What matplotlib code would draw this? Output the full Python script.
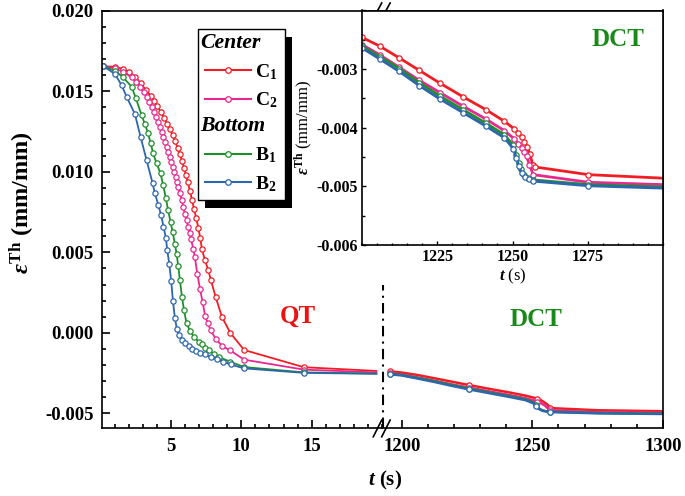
import matplotlib
matplotlib.use("Agg")
import matplotlib.pyplot as plt
from matplotlib.ticker import MultipleLocator, FormatStrFormatter
from matplotlib.legend_handler import HandlerBase
from matplotlib.lines import Line2D
from matplotlib.patches import Rectangle
from matplotlib.text import Text
from matplotlib.transforms import IdentityTransform

plt.rcParams.update({
    "font.family": "Liberation Serif",
    "font.weight": "bold",
    "mathtext.fontset": "custom",
    "mathtext.rm": "Liberation Serif:bold",
    "mathtext.it": "Liberation Serif:italic:bold",
    "mathtext.bf": "Liberation Serif:bold",
    "axes.unicode_minus": False,
    "axes.linewidth": 1.2,
})

# ---- quenching (QT) part, t in s, strain in mm/mm ----
t_c1_qt = [0.2, 1.0, 1.6, 2.05, 2.45, 2.85, 3.2, 3.55, 3.8, 4.03, 4.27, 4.5, 4.74, 4.93,
           5.12, 5.3, 5.47, 5.64, 5.79, 5.93, 6.06, 6.2, 6.35, 6.5, 6.64, 6.8, 6.95, 7.08,
           7.2, 7.42, 7.66, 7.83, 8.18, 8.62, 9.22, 10.2, 14.45, 19.6]
e_c1_qt = [0.01655, 0.01650, 0.01638, 0.01617, 0.01590, 0.01550, 0.01508, 0.01472, 0.01440,
           0.01408, 0.01372, 0.01335, 0.01298, 0.01263, 0.01226, 0.01189, 0.01148, 0.01107,
           0.01065, 0.01024, 0.00980, 0.00935, 0.00880, 0.00825, 0.00768, 0.00710, 0.00650,
           0.00590, 0.00520, 0.00450, 0.00388, 0.00330, 0.00222, 0.00100, 0.00000, -0.00106,
           -0.00213, -0.00236]

t_c2_qt = [0.2, 1.0, 1.6, 2.2, 2.55, 2.8, 3.05, 3.27, 3.45, 3.62, 3.78, 3.93, 4.08, 4.21,
           4.33, 4.45, 4.57, 4.69, 4.81, 4.93, 5.03, 5.12, 5.23, 5.33, 5.43, 5.52, 5.64, 5.76,
           5.88, 5.99, 6.11, 6.23, 6.33, 6.42, 6.58, 6.7, 6.87, 7.06, 7.25, 7.43, 7.62, 7.83,
           8.2, 8.65, 9.2, 10.2, 14.45, 19.6]
e_c2_qt = [0.01655, 0.01641, 0.01620, 0.01585, 0.01555, 0.01527, 0.01495, 0.01465, 0.01432,
           0.01399, 0.01370, 0.01340, 0.01309, 0.01278, 0.01247, 0.01216, 0.01185, 0.01154,
           0.01123, 0.01092, 0.01061, 0.01030, 0.00999, 0.00968, 0.00937, 0.00906, 0.00865,
           0.00823, 0.00781, 0.00740, 0.00698, 0.00657, 0.00620, 0.00585, 0.00523, 0.00471,
           0.00368, 0.00275, 0.00191, 0.00105, 0.00060, 0.00015, -0.00040, -0.00082,
           -0.00108, -0.00166, -0.00228, -0.00245]

t_b1_qt = [0.2, 1.02, 1.61, 2.2, 2.51, 2.91, 3.15, 3.38, 3.56, 3.74, 3.98, 4.26, 4.45, 4.64,
           4.8, 4.97, 5.12, 5.28, 5.4, 5.52, 5.64, 5.78, 5.93, 6.11, 6.37, 6.66, 6.97, 7.2,
           7.41, 7.72, 8.05, 8.42, 9.19, 10.2, 14.45, 19.6]
e_b1_qt = [0.01655, 0.01626, 0.01585, 0.01527, 0.01455, 0.01351, 0.01295, 0.01237, 0.01175,
           0.01113, 0.01051, 0.00989, 0.00916, 0.00834, 0.00761, 0.00688, 0.00626, 0.00550,
           0.00492, 0.00413, 0.00326, 0.00225, 0.00140, 0.00059, 0.00010, -0.00026, -0.00055,
           -0.00070, -0.00093, -0.00109, -0.00129, -0.00150, -0.00178, -0.00212, -0.00245,
           -0.00252]

t_b2_qt = [0.2, 1.02, 1.49, 1.85, 2.44, 2.84, 3.27, 3.69, 3.86, 4.1, 4.3, 4.47, 4.64, 4.74,
           4.88, 5.02, 5.14, 5.28, 5.42, 5.6, 5.8, 6.02, 6.25, 6.5, 6.78, 7.06, 7.41, 7.82,
           8.24, 8.71, 9.24, 10.2, 14.45, 19.6]
e_b2_qt = [0.01655, 0.01606, 0.01537, 0.01465, 0.01357, 0.01216, 0.01071, 0.00930, 0.00865,
           0.00795, 0.00730, 0.00660, 0.00588, 0.00512, 0.00428, 0.00320, 0.00200, 0.00092,
           0.00026, -0.00016, -0.00042, -0.00064, -0.00082, -0.00098, -0.00112, -0.00122,
           -0.00134, -0.00150, -0.00163, -0.00178, -0.00196, -0.00220, -0.00248, -0.00254]

# ---- deep cryogenic treatment (DCT) part ----
t_c1_dct = [1195.5, 1200.0, 1206.0, 1212.4, 1219.0, 1225.9, 1233.5, 1241.1, 1247.3, 1250.6,
            1251.9, 1253.1, 1253.9, 1254.7, 1255.8, 1256.7, 1257.6, 1275.2, 1300.0]
e_c1_dct = [-0.00238, -0.00246, -0.00261, -0.00281, -0.00302, -0.00324, -0.00347, -0.00369,
            -0.00389, -0.00402, -0.00409, -0.00416, -0.00424, -0.00432, -0.00445, -0.00463,
            -0.00467, -0.00480, -0.00486]

t_c2_dct = [1195.5, 1200.0, 1206.0, 1212.4, 1219.0, 1225.9, 1233.5, 1241.1, 1247.3, 1250.6,
            1251.9, 1253.1, 1253.8, 1254.7, 1255.6, 1256.9, 1275.2, 1300.0]
e_c2_dct = [-0.00250, -0.00258, -0.00276, -0.00297, -0.00319, -0.00340, -0.00363, -0.00385,
            -0.00405, -0.00419, -0.00427, -0.00434, -0.00441, -0.00449, -0.00463, -0.00480,
            -0.00493, -0.00497]

t_b1_dct = [1195.5, 1200.0, 1206.0, 1212.4, 1219.0, 1225.9, 1233.5, 1241.1, 1247.3, 1250.3,
            1251.3, 1252.0, 1252.8, 1253.8, 1255.3, 1256.9, 1275.2, 1300.0]
e_b1_dct = [-0.00253, -0.00261, -0.00279, -0.00299, -0.00323, -0.00346, -0.00369, -0.00392,
            -0.00412, -0.00430, -0.00446, -0.00460, -0.00471, -0.00480, -0.00486, -0.00489,
            -0.00497, -0.00501]

t_b2_dct = [1195.5, 1200.0, 1206.0, 1212.4, 1219.0, 1225.9, 1233.5, 1241.1, 1247.3, 1250.3,
            1251.3, 1252.1, 1253.0, 1254.0, 1255.4, 1256.9, 1275.2, 1300.0]
e_b2_dct = [-0.00257, -0.00264, -0.00283, -0.00304, -0.00328, -0.00351, -0.00374, -0.00397,
            -0.00417, -0.00436, -0.00452, -0.00466, -0.00477, -0.00484, -0.00488, -0.00491,
            -0.00499, -0.00503]

names = ["C$_{1}$", "C$_{2}$", "B$_{1}$", "B$_{2}$"]
colors = ["#f21d24", "#e8288f", "#1f8f2c", "#2d66ad"]
qt = [(t_c1_qt, e_c1_qt), (t_c2_qt, e_c2_qt), (t_b1_qt, e_b1_qt), (t_b2_qt, e_b2_qt)]
dct = [(t_c1_dct, e_c1_dct), (t_c2_dct, e_c2_dct), (t_b1_dct, e_b1_dct), (t_b2_dct, e_b2_dct)]
main_marks = [0, 5, 10, 15]

W, H = 685, 496
fig = plt.figure(figsize=(W / 100, H / 100), dpi=100)


def fpos(x0, y0, x1, y1):
    # pixel box (top-left origin) -> figure fraction
    return [x0 / W, 1 - y1 / H, (x1 - x0) / W, (y1 - y0) / H]


ax1 = fig.add_axes(fpos(102, 10.5, 382, 428))
ax2 = fig.add_axes(fpos(382, 10.5, 663, 428))
axin = fig.add_axes(fpos(362, 10.5, 663, 245))
axin.set_zorder(5)

line_kw = dict(marker="o", mfc="white", ms=3.8, mew=0.9)
for (t, e), c in zip(qt, colors):
    ax1.plot(t, e, color=c, mec=c, lw=1.3, markevery=list(range(len(t) - 1)), **line_kw)
for (t, e), c in zip(dct, colors):
    ax2.plot(t, e, color=c, mec=c, lw=1.8, markevery=main_marks, **line_kw)
    axin.plot(t, e, color=c, mec=c, lw=2.0, markevery=list(range(1, len(t) - 1)), **line_kw)

ylo, yhi = -0.0059, 0.020
for ax in (ax1, ax2):
    ax.set_ylim(ylo, yhi)
    ax.tick_params(which="both", direction="in", labelsize=13.5, width=1.2, top=False, right=False)
    ax.tick_params(which="major", length=5.5)
    ax.tick_params(which="minor", length=3)
    ax.tick_params(axis="x", pad=7)

ax1.set_xlim(0.1, 20.0)
ax1.set_xticks([5, 10, 15])
ax1.xaxis.set_minor_locator(MultipleLocator(1))
ax1.set_yticks([-0.005, 0.0, 0.005, 0.010, 0.015, 0.020])
ax1.yaxis.set_minor_locator(MultipleLocator(0.001))
ax1.yaxis.set_major_formatter(FormatStrFormatter("%.3f"))
ax1.tick_params(axis="y", pad=6)
ax1.spines["right"].set_visible(False)

ax2.set_xlim(1192.46, 1300)
ax2.set_xticks([1200, 1250, 1300])
ax2.xaxis.set_minor_locator(MultipleLocator(10))
ax2.set_yticks([])
ax2.spines["left"].set_visible(False)

# dash-dot separator between QT and DCT
ax2.axvline(1192.9, 0, 0.343, color="black", lw=1.5, ls=(0, (5, 2.5, 1, 2.5)))

# break marks
for dx in (0.0, 0.03):
    ax2.plot([-0.031 + dx, -0.001 + dx], [-0.021, 0.019], color="black", lw=1.2,
             transform=ax2.transAxes, clip_on=False)
    ax2.plot([-0.031 + dx, -0.001 + dx], [0.981, 1.018], color="black", lw=1.2,
             transform=ax2.transAxes, clip_on=False, zorder=10)

ax1.text(14.0, 0.0010, "QT", color="#ee1111", fontsize=18, ha="center", va="center")
ax2.text(1251.3, 0.0008, "DCT", color="#178a17", fontsize=18, ha="center", va="center")

fig.text(385 / W, 1 - 480 / H, "$t$ (s)", fontsize=15, ha="center", va="center")
fig.text(22 / W, 1 - 203 / H, r"$\varepsilon^{\mathrm{Th}}$ (mm/mm)", fontsize=17.5,
         rotation=90, ha="center", va="center")

# inset
axin.set_xlim(1200, 1300)
axin.set_ylim(-0.006, -0.002)
axin.set_xticks([1225, 1250, 1275])
axin.xaxis.set_minor_locator(MultipleLocator(5))
axin.set_yticks([-0.006, -0.005, -0.004, -0.003])
axin.yaxis.set_minor_locator(MultipleLocator(0.0005))
axin.yaxis.set_major_formatter(FormatStrFormatter("%.3f"))
axin.tick_params(which="both", direction="in", labelsize=11.5, width=1.0, pad=3)
axin.tick_params(which="major", length=3.2)
axin.tick_params(which="minor", length=1.8)
axin.set_xlabel("$t$ (s)", fontsize=12, labelpad=1)
axin.set_ylabel(r"$\varepsilon^{\mathrm{Th}}$ (mm/mm)", fontsize=12, labelpad=1)
axin.text(1285, -0.0025, "DCT", color="#178a17", fontsize=18, ha="center", va="center")


# legend with group headings
class HeadingHandler(HandlerBase):
    def create_artists(self, legend, orig_handle, xdescent, ydescent, width, height,
                       fontsize, trans):
        txt = Text(-xdescent - 3, -ydescent + height / 2, orig_handle.get_text(),
                   ha="left", va="center", fontsize=fontsize * 1.12, fontweight="bold",
                   fontstyle="italic", transform=trans)
        return [txt]


sample = [Line2D([], [], color=c, lw=1.5, marker="o", mfc="white", mec=c, ms=4, mew=0.9)
          for c in colors]
handles = [Text(text="Center"), sample[0], sample[1], Text(text="Bottom"), sample[2], sample[3]]
labels = ["", names[0], names[1], "", names[2], names[3]]
leg = ax1.legend(handles, labels, handler_map={Text: HeadingHandler()}, loc="upper left",
                 bbox_to_anchor=(198 / W, 1 - 29 / H), bbox_transform=fig.transFigure,
                 borderaxespad=0, fontsize=14, handlelength=2.4, handletextpad=0.2,
                 labelspacing=0.45, borderpad=0.35, fancybox=False, edgecolor="black",
                 framealpha=1, numpoints=1)
leg.get_frame().set_linewidth(1.0)

fig.canvas.draw()
bb = leg.get_window_extent()
ax1.add_patch(Rectangle((bb.x0 + 7, bb.y0 - 8), bb.width, bb.height,
                        transform=IdentityTransform(), facecolor="black", edgecolor="none",
                        zorder=4.9, clip_on=False))

fig.savefig("out.png", dpi=100)
